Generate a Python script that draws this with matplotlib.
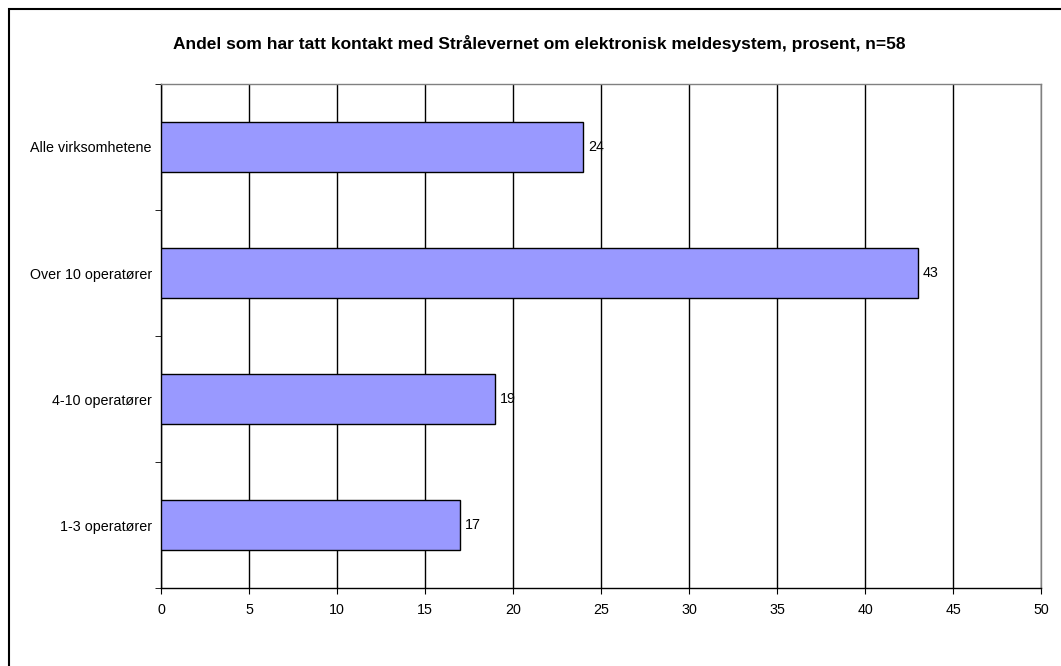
import matplotlib
matplotlib.use("Agg")
import matplotlib.pyplot as plt
from matplotlib.patches import Rectangle

plt.rcParams['font.family'] = ['Liberation Sans', 'DejaVu Sans']

categories = ["1-3 operatører", "4-10 operatører", "Over 10 operatører", "Alle virksomhetene"]
values = [17, 19, 43, 24]
xticks = [0, 5, 10, 15, 20, 25, 30, 35, 40, 45, 50]
title = "Andel som har tatt kontakt med Strålevernet om elektronisk meldesystem, prosent, n=58"

fig = plt.figure(figsize=(10.61, 6.66), dpi=100)
fig.patches.append(Rectangle((8.5/1061, -0.1), 1.2, (666-8.5)/666 + 0.1, transform=fig.transFigure,
                             fill=False, edgecolor='black', linewidth=1.5, zorder=0))

ax = fig.add_axes([161/1061, 78/666, 880/1061, 504/666])
ypos = list(range(len(categories)))
ax.barh(ypos, values, height=0.4, color='#9999FF', edgecolor='black', linewidth=1.0, zorder=3)

for y, v in zip(ypos, values):
    ax.annotate(str(v), (v, y), xytext=(3.5, 0), textcoords='offset points',
                va='center', ha='left', fontsize=10.3)

ax.set_xlim(0, 50)
ax.set_ylim(-0.5, len(categories) - 0.5)
ax.set_xticks(xticks)
ax.set_xticklabels([str(t) for t in xticks], fontsize=10.3)
ax.set_yticks(ypos)
ax.set_yticklabels(categories, fontsize=10.3)
ax.tick_params(axis='y', length=0, pad=6.5)
ax.tick_params(axis='x', length=4, direction='out', pad=7, color='black')
ax.set_yticks([y + 0.5 for y in [-1] + ypos], minor=True)
ax.tick_params(axis='y', which='minor', length=4, direction='out', color='black')

ax.xaxis.grid(True, color='black', linewidth=1.0, zorder=0)
ax.set_axisbelow(True)
for s in ['top', 'right']:
    ax.spines[s].set_color('#808080')
    ax.spines[s].set_linewidth(1.0)
for s in ['left', 'bottom']:
    ax.spines[s].set_color('black')
    ax.spines[s].set_linewidth(1.0)

fig.text(539/1061, 1 - 44/666, title, ha='center', va='center', fontsize=12.5, fontweight='bold')

fig.savefig("out.png", dpi=100)
